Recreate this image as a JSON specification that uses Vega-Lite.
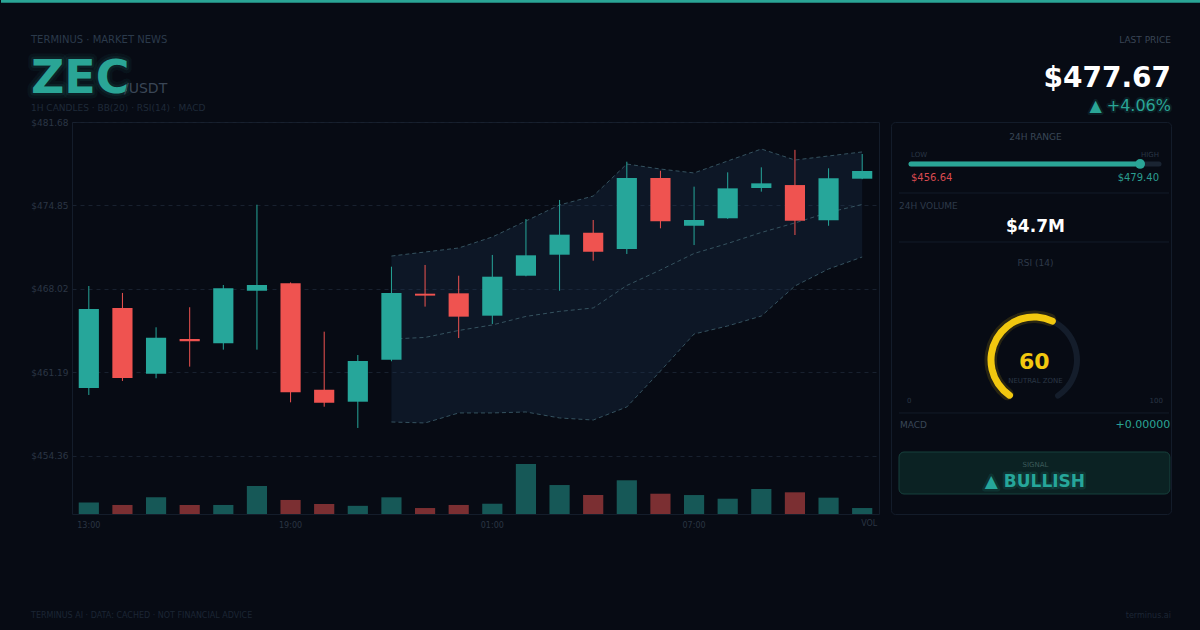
{
  "$schema": "https://vega.github.io/schema/vega-lite/v6.json",
  "background": "#070b14",
  "padding": 0,
  "autosize": {"type": "pad"},
  "spacing": 0,
  "config": {"view": {"stroke": null}, "font": "DejaVu Sans", "text": {"font": "DejaVu Sans"}},
  "datasets": {
    "candles": [
      {"t": "13:00", "o": 459.91, "h": 468.26, "l": 459.34, "c": 466.38, "v": 131},
      {"t": "14:00", "o": 466.46, "h": 467.69, "l": 460.49, "c": 460.73, "v": 103},
      {"t": "15:00", "o": 461.08, "h": 464.88, "l": 460.71, "c": 464.03, "v": 190},
      {"t": "16:00", "o": 463.92, "h": 466.52, "l": 461.66, "c": 463.73, "v": 103},
      {"t": "17:00", "o": 463.57, "h": 468.34, "l": 463.05, "c": 468.07, "v": 103},
      {"t": "18:00", "o": 467.87, "h": 474.91, "l": 463.05, "c": 468.34, "v": 319},
      {"t": "19:00", "o": 468.48, "h": 468.55, "l": 458.74, "c": 459.56, "v": 160},
      {"t": "20:00", "o": 459.77, "h": 464.52, "l": 458.38, "c": 458.71, "v": 114},
      {"t": "21:00", "o": 458.79, "h": 462.61, "l": 456.64, "c": 462.12, "v": 93},
      {"t": "22:00", "o": 462.23, "h": 469.84, "l": 462.10, "c": 467.69, "v": 190, "ub": 470.71, "mb": 463.92, "lb": 457.13},
      {"t": "23:00", "o": 467.63, "h": 469.98, "l": 466.57, "c": 467.47, "v": 68, "ub": 471.04, "mb": 464.05, "lb": 457.05},
      {"t": "00:00", "o": 467.66, "h": 469.10, "l": 464.00, "c": 465.75, "v": 103, "ub": 471.37, "mb": 464.62, "lb": 457.87},
      {"t": "01:00", "o": 465.83, "h": 470.80, "l": 465.15, "c": 469.02, "v": 117, "ub": 472.27, "mb": 465.07, "lb": 457.87},
      {"t": "02:00", "o": 469.10, "h": 473.74, "l": 469.05, "c": 470.77, "v": 570, "ub": 473.58, "mb": 465.77, "lb": 457.95},
      {"t": "03:00", "o": 470.82, "h": 475.30, "l": 467.87, "c": 472.46, "v": 330, "ub": 474.89, "mb": 466.18, "lb": 457.46},
      {"t": "04:00", "o": 472.62, "h": 473.66, "l": 470.33, "c": 471.07, "v": 216, "ub": 475.62, "mb": 466.46, "lb": 457.29},
      {"t": "05:00", "o": 471.29, "h": 478.43, "l": 470.88, "c": 477.10, "v": 384, "ub": 478.24, "mb": 468.30, "lb": 458.36},
      {"t": "06:00", "o": 477.10, "h": 477.69, "l": 472.98, "c": 473.55, "v": 231, "ub": 477.83, "mb": 469.57, "lb": 461.30},
      {"t": "07:00", "o": 473.19, "h": 476.39, "l": 471.61, "c": 473.66, "v": 216, "ub": 477.51, "mb": 470.92, "lb": 464.33},
      {"t": "08:00", "o": 473.80, "h": 477.56, "l": 473.75, "c": 476.25, "v": 174, "ub": 478.49, "mb": 471.74, "lb": 464.99},
      {"t": "09:00", "o": 476.28, "h": 477.97, "l": 475.98, "c": 476.66, "v": 285, "ub": 479.47, "mb": 472.64, "lb": 465.80},
      {"t": "10:00", "o": 476.52, "h": 479.40, "l": 472.43, "c": 473.60, "v": 247, "ub": 478.57, "mb": 473.42, "lb": 468.26},
      {"t": "11:00", "o": 473.64, "h": 477.89, "l": 473.19, "c": 477.07, "v": 186, "ub": 478.90, "mb": 474.28, "lb": 469.65},
      {"t": "12:00", "o": 477.04, "h": 479.06, "l": 477.00, "c": 477.67, "v": 68, "ub": 479.23, "mb": 474.93, "lb": 470.63}
    ],
    "stats": [
      {"last": 477.67, "low": 456.64, "high": 479.40, "vol": 4700000, "rsi": 60, "macd": 0}
    ]
  },
  "vconcat": [
    {
      "width": 1129,
      "height": 117,
      "data": {"name": "stats"},
      "layer": [
        {"mark": {"type": "rect", "color": "#2aa596"},
         "encoding": {
           "x": {"datum": 0, "type": "quantitative", "scale": {"domain": [0, 100], "range": [-71, 1129], "nice": false, "zero": false}, "axis": null},
           "x2": {"datum": 100},
           "y": {"datum": 0, "type": "quantitative", "scale": {"domain": [0, 100], "nice": false, "zero": false, "reverse": true}, "axis": null},
           "y2": {"datum": 2.3}}},
        {"mark": {"type": "text", "align": "left", "baseline": "middle", "fontSize": 10, "color": "#2b3a4b"},
         "encoding": {
           "x": {"datum": 2.5, "type": "quantitative"},
           "y": {"datum": 34.19, "type": "quantitative"},
           "text": {"value": "TERMINUS · MARKET NEWS"}}},
        {"mark": {"type": "text", "align": "left", "baseline": "alphabetic", "fontSize": 46, "fontWeight": "bold", "fill": "#2aa596", "fillOpacity": 0, "stroke": "#2aa596", "strokeOpacity": 0.06, "strokeWidth": 11, "strokeJoin": "round"},
         "encoding": {
           "x": {"datum": 2.5, "type": "quantitative"},
           "y": {"datum": 79.49, "type": "quantitative"},
           "text": {"value": "ZEC"}}},
        {"mark": {"type": "text", "align": "left", "baseline": "alphabetic", "fontSize": 46, "fontWeight": "bold", "fill": "#2aa596", "fillOpacity": 0, "stroke": "#2aa596", "strokeOpacity": 0.1, "strokeWidth": 5, "strokeJoin": "round"},
         "encoding": {
           "x": {"datum": 2.5, "type": "quantitative"},
           "y": {"datum": 79.49, "type": "quantitative"},
           "text": {"value": "ZEC"}}},
        {"mark": {"type": "text", "align": "left", "baseline": "alphabetic", "fontSize": 46, "fontWeight": "bold", "color": "#2aa596"},
         "encoding": {
           "x": {"datum": 2.5, "type": "quantitative"},
           "y": {"datum": 79.49, "type": "quantitative"},
           "text": {"value": "ZEC"}}},
        {"mark": {"type": "text", "align": "left", "baseline": "alphabetic", "fontSize": 14, "color": "#3a4656"},
         "encoding": {
           "x": {"datum": 10.25, "type": "quantitative"},
           "y": {"datum": 79.49, "type": "quantitative"},
           "text": {"value": "/USDT"}}},
        {"mark": {"type": "text", "align": "left", "baseline": "middle", "fontSize": 9, "color": "#1f2a39"},
         "encoding": {
           "x": {"datum": 2.5, "type": "quantitative"},
           "y": {"datum": 92.31, "type": "quantitative"},
           "text": {"value": "1H CANDLES · BB(20) · RSI(14) · MACD"}}},
        {"mark": {"type": "text", "align": "right", "baseline": "middle", "fontSize": 9, "color": "#3a4656"},
         "encoding": {
           "x": {"datum": 97.5, "type": "quantitative"},
           "y": {"datum": 34.19, "type": "quantitative"},
           "text": {"value": "LAST PRICE"}}},
        {"mark": {"type": "text", "align": "right", "baseline": "alphabetic", "fontSize": 28, "fontWeight": "bold", "color": "#ffffff"},
         "encoding": {
           "x": {"datum": 97.5, "type": "quantitative"},
           "y": {"datum": 74.36, "type": "quantitative"},
           "text": {"field": "last", "type": "quantitative", "format": "$.2f"}}},
        {"mark": {"type": "text", "align": "right", "baseline": "middle", "fontSize": 16, "fill": "#2aa596", "fillOpacity": 0, "stroke": "#2aa596", "strokeOpacity": 0.12, "strokeWidth": 4, "strokeJoin": "round"},
         "encoding": {
           "x": {"datum": 97.5, "type": "quantitative"},
           "y": {"datum": 90.6, "type": "quantitative"},
           "text": {"value": "▲ +4.06%"}}},
        {"mark": {"type": "text", "align": "right", "baseline": "middle", "fontSize": 16, "color": "#2aa596"},
         "encoding": {
           "x": {"datum": 97.5, "type": "quantitative"},
           "y": {"datum": 90.6, "type": "quantitative"},
           "text": {"value": "▲ +4.06%"}}}
      ]
    },
    {
      "hconcat": [
        {
          "width": 807,
          "height": 392,
          "data": {"name": "candles"},
          "view": {"stroke": "#141d2b"},
          "encoding": {
            "x": {"field": "t", "type": "ordinal", "sort": null,
                  "scale": {"paddingInner": 0.4, "paddingOuter": 0.2},
                  "axis": {"values": ["13:00", "19:00", "01:00", "07:00"],
                           "labelAngle": 0, "ticks": false, "domain": false, "grid": false,
                           "labelFontSize": 8, "labelColor": "#2a3543", "labelPadding": 7,
                           "title": null, "minExtent": 20, "maxExtent": 20}}
          },
          "resolve": {"scale": {"y": "independent"}},
          "layer": [
            {"mark": {"type": "bar", "opacity": 0.5},
             "encoding": {
               "y": {"field": "v", "type": "quantitative", "scale": {"domain": [0, 4465], "nice": false}, "axis": null},
               "color": {"condition": {"test": "datum.c >= datum.o", "value": "#26a69a"}, "value": "#ef5350"}}},
            {"layer": [
              {"mark": {"type": "area", "color": "#1e3b5c", "opacity": 0.26},
               "encoding": {
                 "y": {"field": "lb", "type": "quantitative",
                       "scale": {"domain": [449.6, 481.68], "nice": false, "zero": false},
                       "axis": {"values": [481.68, 474.85, 468.02, 461.19, 454.36], "format": "$.2f",
                                "labelFontSize": 9, "labelColor": "#2b3645", "ticks": false, "domain": false,
                                "grid": true, "gridColor": "#18212f", "gridDash": [4, 4], "labelPadding": 4,
                                "labelFlush": false, "title": null, "minExtent": 71, "maxExtent": 71}},
                 "y2": {"field": "ub"}}},
              {"transform": [{"fold": ["ub", "mb", "lb"], "as": ["band", "val"]}],
               "mark": {"type": "line", "color": "#35525f", "strokeWidth": 1, "strokeDash": [4, 3]},
               "encoding": {
                 "y": {"field": "val", "type": "quantitative"},
                 "detail": {"field": "band", "type": "nominal"}}},
              {"mark": {"type": "rule", "strokeWidth": 1},
               "encoding": {
                 "y": {"field": "l", "type": "quantitative"},
                 "y2": {"field": "h"},
                 "color": {"condition": {"test": "datum.c >= datum.o", "value": "#26a69a"}, "value": "#ef5350"}}},
              {"mark": {"type": "bar"},
               "encoding": {
                 "y": {"field": "o", "type": "quantitative"},
                 "y2": {"field": "c"},
                 "color": {"condition": {"test": "datum.c >= datum.o", "value": "#26a69a"}, "value": "#ef5350"}}},
              {"transform": [{"filter": "datum.t == '12:00'"}],
               "mark": {"type": "text", "align": "left", "baseline": "middle", "fontSize": 8, "color": "#2a3543", "dx": -1},
               "encoding": {
                 "y": {"datum": 448.75, "type": "quantitative"},
                 "text": {"value": "VOL"}}}
            ]}
          ]
        },
        {
          "width": 280,
          "height": 392,
          "data": {"name": "stats"},
          "view": {"stroke": "#131c2a", "cornerRadius": 4},
          "resolve": {"scale": {"x": "independent"}},
          "layer": [
            {"layer": [
              {"mark": {"type": "rule", "strokeWidth": 5, "strokeCap": "round", "color": "#1a2432"},
               "encoding": {
                 "x": {"field": "low", "type": "quantitative", "scale": {"domain": [456.64, 479.4], "range": [20, 268], "nice": false, "zero": false}, "axis": null},
                 "x2": {"field": "high"},
                 "y": {"datum": 10.71, "type": "quantitative", "scale": {"domain": [0, 100], "nice": false, "zero": false, "reverse": true}, "axis": null}}},
              {"mark": {"type": "rule", "strokeWidth": 5, "strokeCap": "round", "color": "#2aa596"},
               "encoding": {
                 "x": {"field": "low", "type": "quantitative"},
                 "x2": {"field": "last"},
                 "y": {"datum": 10.71, "type": "quantitative"}}},
              {"mark": {"type": "point", "filled": true, "size": 95, "opacity": 1, "color": "#2aa596"},
               "encoding": {
                 "x": {"field": "last", "type": "quantitative"},
                 "y": {"datum": 10.71, "type": "quantitative"}}},
              {"mark": {"type": "text", "align": "left", "baseline": "middle", "fontSize": 10, "color": "#d84a50"},
               "encoding": {
                 "x": {"field": "low", "type": "quantitative"},
                 "y": {"datum": 14.29, "type": "quantitative"},
                 "text": {"field": "low", "type": "quantitative", "format": "$.2f"}}},
              {"mark": {"type": "text", "align": "right", "baseline": "middle", "fontSize": 10, "color": "#2a9d8f"},
               "encoding": {
                 "x": {"field": "high", "type": "quantitative"},
                 "y": {"datum": 14.29, "type": "quantitative"},
                 "text": {"field": "high", "type": "quantitative", "format": "$.2f"}}},
              {"mark": {"type": "text", "align": "left", "baseline": "middle", "fontSize": 7, "color": "#2a3646"},
               "encoding": {
                 "x": {"field": "low", "type": "quantitative"},
                 "y": {"datum": 8.42, "type": "quantitative"},
                 "text": {"value": "LOW"}}},
              {"mark": {"type": "text", "align": "right", "baseline": "middle", "fontSize": 7, "color": "#2a3646"},
               "encoding": {
                 "x": {"field": "high", "type": "quantitative"},
                 "y": {"datum": 8.42, "type": "quantitative"},
                 "text": {"value": "HIGH"}}}
            ]},
            {"layer": [
              {"mark": {"type": "rule", "strokeWidth": 1, "color": "#131c29"},
               "encoding": {
                 "x": {"datum": 2.86, "type": "quantitative", "scale": {"domain": [0, 100], "nice": false, "zero": false}, "axis": null},
                 "x2": {"datum": 99.3},
                 "y": {"datum": 18.11, "type": "quantitative"}}},
              {"mark": {"type": "rule", "strokeWidth": 1, "color": "#131c29"},
               "encoding": {"x": {"datum": 2.86, "type": "quantitative"}, "x2": {"datum": 99.3}, "y": {"datum": 30.61, "type": "quantitative"}}},
              {"mark": {"type": "rule", "strokeWidth": 1, "color": "#131c29"},
               "encoding": {"x": {"datum": 2.86, "type": "quantitative"}, "x2": {"datum": 99.3}, "y": {"datum": 74.23, "type": "quantitative"}}},
              {"mark": {"type": "text", "align": "center", "baseline": "middle", "fontSize": 9, "color": "#3a4757"},
               "encoding": {"x": {"datum": 51.6, "type": "quantitative"}, "y": {"datum": 3.7, "type": "quantitative"}, "text": {"value": "24H RANGE"}}},
              {"mark": {"type": "text", "align": "left", "baseline": "middle", "fontSize": 9, "color": "#2e3a4a"},
               "encoding": {"x": {"datum": 2.86, "type": "quantitative"}, "y": {"datum": 21.43, "type": "quantitative"}, "text": {"value": "24H VOLUME"}}},
              {"mark": {"type": "text", "align": "center", "baseline": "middle", "fontSize": 17, "fontWeight": "bold", "color": "#ffffff"},
               "encoding": {"x": {"datum": 51.6, "type": "quantitative"}, "y": {"datum": 26.66, "type": "quantitative"}, "text": {"field": "vol", "type": "quantitative", "format": "$.2s"}}},
              {"mark": {"type": "text", "align": "center", "baseline": "middle", "fontSize": 9, "color": "#2e3a4a"},
               "encoding": {"x": {"datum": 51.6, "type": "quantitative"}, "y": {"datum": 35.97, "type": "quantitative"}, "text": {"value": "RSI (14)"}}},
              {"mark": {"type": "text", "align": "center", "baseline": "middle", "fontSize": 7, "color": "#2a3645"},
               "encoding": {"x": {"datum": 51.6, "type": "quantitative"}, "y": {"datum": 66.0, "type": "quantitative"}, "text": {"value": "NEUTRAL ZONE"}}},
              {"mark": {"type": "arc", "innerRadius": 40, "outerRadius": 46, "cornerRadius": 3, "color": "#141d2b"},
               "encoding": {
                 "x": {"datum": 51.07, "type": "quantitative", "stack": null},
                 "y": {"datum": 60.71, "type": "quantitative", "stack": null},
                 "theta": {"datum": 0, "type": "quantitative", "stack": null, "scale": {"domain": [0, 100], "range": [-2.618, 2.618]}},
                 "theta2": {"datum": 100}}},
              {"mark": {"type": "arc", "innerRadius": 37, "outerRadius": 49.5, "cornerRadius": 6, "color": "#f2c80f", "opacity": 0.14},
               "encoding": {
                 "x": {"datum": 51.07, "type": "quantitative", "stack": null},
                 "y": {"datum": 60.71, "type": "quantitative", "stack": null},
                 "theta": {"field": "rsi", "type": "quantitative", "stack": null},
                 "theta2": {"datum": 0}}},
              {"mark": {"type": "arc", "innerRadius": 39.5, "outerRadius": 46.5, "cornerRadius": 3.5, "color": "#f2c80f"},
               "encoding": {
                 "x": {"datum": 51.07, "type": "quantitative", "stack": null},
                 "y": {"datum": 60.71, "type": "quantitative", "stack": null},
                 "theta": {"field": "rsi", "type": "quantitative", "stack": null},
                 "theta2": {"datum": 0}}},
              {"mark": {"type": "text", "align": "center", "baseline": "middle", "fontSize": 22, "fontWeight": "bold", "color": "#f2c80f"},
               "encoding": {"x": {"datum": 51.2, "type": "quantitative"}, "y": {"datum": 61.1, "type": "quantitative"}, "text": {"field": "rsi", "type": "quantitative", "format": "d"}}},
              {"mark": {"type": "text", "align": "left", "baseline": "middle", "fontSize": 7, "color": "#2a3645"},
               "encoding": {"x": {"datum": 5.7, "type": "quantitative"}, "y": {"datum": 71.05, "type": "quantitative"}, "text": {"value": "0"}}},
              {"mark": {"type": "text", "align": "right", "baseline": "middle", "fontSize": 7, "color": "#2a3645"},
               "encoding": {"x": {"datum": 97.1, "type": "quantitative"}, "y": {"datum": 71.05, "type": "quantitative"}, "text": {"value": "100"}}},
              {"mark": {"type": "text", "align": "left", "baseline": "middle", "fontSize": 9, "color": "#3a4757"},
               "encoding": {"x": {"datum": 3.2, "type": "quantitative"}, "y": {"datum": 77.42, "type": "quantitative"}, "text": {"value": "MACD"}}},
              {"mark": {"type": "text", "align": "right", "baseline": "middle", "fontSize": 11, "color": "#2aa596"},
               "encoding": {"x": {"datum": 99.7, "type": "quantitative"}, "y": {"datum": 77.42, "type": "quantitative"}, "text": {"field": "macd", "type": "quantitative", "format": "+.5f"}}},
              {"mark": {"type": "rect", "fill": "#0b2223", "stroke": "#17403c", "strokeWidth": 1, "cornerRadius": 5},
               "encoding": {"x": {"datum": 2.86, "type": "quantitative"}, "x2": {"datum": 99.6}, "y": {"datum": 84.18, "type": "quantitative"}, "y2": {"datum": 94.9}}},
              {"mark": {"type": "text", "align": "center", "baseline": "middle", "fontSize": 7, "color": "#3c5a5a"},
               "encoding": {"x": {"datum": 51.6, "type": "quantitative"}, "y": {"datum": 87.5, "type": "quantitative"}, "text": {"value": "SIGNAL"}}},
              {"mark": {"type": "text", "align": "center", "baseline": "middle", "fontSize": 17, "fontWeight": "bold", "fill": "#26a69a", "fillOpacity": 0, "stroke": "#26a69a", "strokeOpacity": 0.14, "strokeWidth": 5, "strokeJoin": "round"},
               "encoding": {"x": {"datum": 51.4, "type": "quantitative"}, "y": {"datum": 91.96, "type": "quantitative"}, "text": {"value": "▲ BULLISH"}}},
              {"mark": {"type": "text", "align": "center", "baseline": "middle", "fontSize": 17, "fontWeight": "bold", "color": "#26a69a"},
               "encoding": {"x": {"datum": 51.4, "type": "quantitative"}, "y": {"datum": 91.96, "type": "quantitative"}, "text": {"value": "▲ BULLISH"}}}
            ]}
          ]
        }
      ],
      "spacing": 12,
      "bounds": "flush"
    },
    {
      "width": 1129,
      "height": 96,
      "data": {"name": "stats"},
      "layer": [
        {"mark": {"type": "text", "align": "left", "baseline": "middle", "fontSize": 8, "color": "#1c2634"},
         "encoding": {
           "x": {"datum": 2.5, "type": "quantitative", "scale": {"domain": [0, 100], "range": [-71, 1129], "nice": false, "zero": false}, "axis": null},
           "y": {"datum": 84.4, "type": "quantitative", "scale": {"domain": [0, 100], "nice": false, "zero": false, "reverse": true}, "axis": null},
           "text": {"value": "TERMINUS AI · DATA: CACHED · NOT FINANCIAL ADVICE"}}},
        {"mark": {"type": "text", "align": "right", "baseline": "middle", "fontSize": 8, "color": "#1c2634"},
         "encoding": {
           "x": {"datum": 97.5, "type": "quantitative"},
           "y": {"datum": 84.4, "type": "quantitative"},
           "text": {"value": "terminus.ai"}}}
      ]
    }
  ]
}
